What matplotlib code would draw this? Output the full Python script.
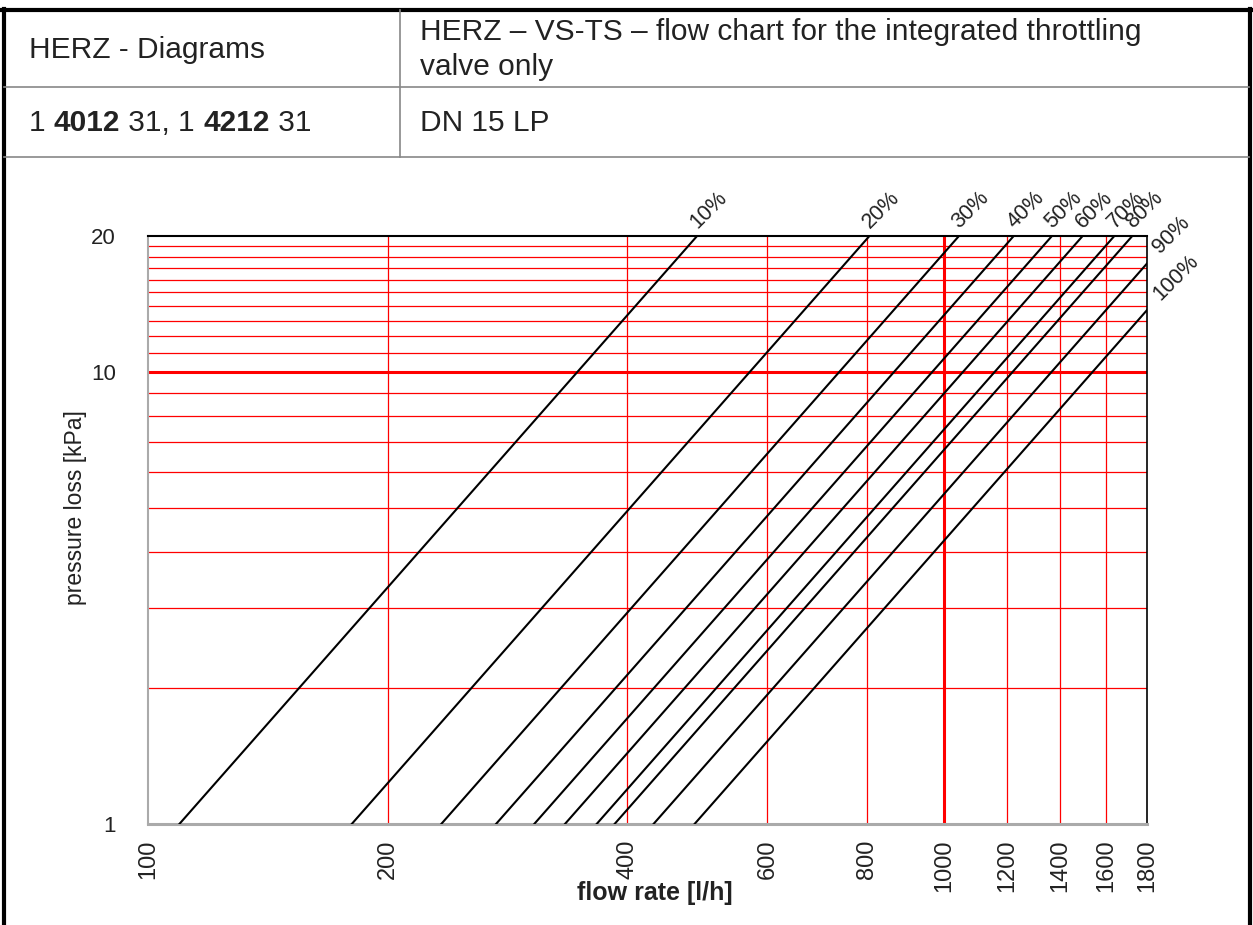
import matplotlib
matplotlib.use("Agg")
import matplotlib.pyplot as plt
from matplotlib.lines import Line2D
import numpy as np

plt.rcParams['font.family'] = ['Liberation Sans', 'DejaVu Sans']

# valve openings and their kv values (m3/h at 1 bar)
openings = ['10%', '20%', '30%', '40%', '50%', '60%', '70%', '80%', '90%', '100%']
kv_values = [1.095, 1.803, 2.336, 2.737, 3.057, 3.341, 3.662, 3.857, 4.317, 4.861]

x_ticks = [100, 200, 400, 600, 800, 1000, 1200, 1400, 1600, 1800]
y_ticks = [1, 10, 20]
x_grid = [200, 400, 600, 800, 1200, 1400, 1600]
y_grid = [2, 3, 4, 5, 6, 7, 8, 9, 11, 12, 13, 14, 15, 16, 17, 18, 19]

W, H = 1253, 925
fig = plt.figure(figsize=(W / 100, H / 100), dpi=100)
fig.patch.set_facecolor('white')
txt = '#222222'


def fx(px):
    return px / W


def fy(py):
    return 1 - py / H


# header table
def hline(py, x0, x1, color, lw):
    fig.add_artist(Line2D([fx(x0), fx(x1)], [fy(py), fy(py)], color=color, lw=lw))


def vline(px, y0, y1, color, lw):
    fig.add_artist(Line2D([fx(px), fx(px)], [fy(y0), fy(y1)], color=color, lw=lw))


hline(10, 2, 1251, 'black', 3)
vline(3.5, 9, 925, 'black', 3)
vline(1249.5, 9, 925, 'black', 3)
hline(87, 4, 1249, '#888888', 1.2)
hline(157, 4, 1249, '#888888', 1.2)
vline(400, 10, 157, '#888888', 1.2)

hsize = 21.5
fig.text(fx(29), fy(50), 'HERZ - Diagrams', fontsize=hsize, va='center', color=txt)
fig.text(fx(420), fy(32), 'HERZ \u2013 VS-TS \u2013 flow chart for the integrated throttling',
         fontsize=hsize, va='center', color=txt)
fig.text(fx(420), fy(67), 'valve only', fontsize=hsize, va='center', color=txt)
fig.text(fx(420), fy(123), 'DN 15 LP', fontsize=hsize, va='center', color=txt)

renderer = fig.canvas.get_renderer()
x = fx(29)
for s, w in [('1 ', 'normal'), ('4012', 'bold'), (' 31, 1 ', 'normal'),
             ('4212', 'bold'), (' 31', 'normal')]:
    t = fig.text(x, fy(123), s, fontsize=hsize, va='center', weight=w, color=txt)
    bb = t.get_window_extent(renderer)
    x += bb.width / W

# chart
ax = fig.add_axes([fx(148), fy(824), (1147 - 148) / W, (824 - 236) / H])
ax.set_xscale('log')
ax.set_yscale('log')
ax.set_xlim(100, 1800)
ax.set_ylim(1, 20)

for v in y_grid:
    ax.axhline(v, color='red', lw=0.9, zorder=1)
ax.axhline(10, color='red', lw=2.2, zorder=1)
for v in x_grid:
    ax.axvline(v, color='red', lw=0.9, zorder=1)
ax.axvline(1000, color='red', lw=2.2, zorder=1)

dp = np.array([1.0, 20.0])
for name, kv in zip(openings, kv_values):
    q = kv * 100 * np.sqrt(dp)
    ax.plot(q, dp, color='black', lw=1.5, zorder=3)
    q_end = kv * 100 * np.sqrt(20)
    if q_end <= 1800:
        ax.annotate(name, xy=(q_end, 20), xytext=(4, 3), textcoords='offset pixels',
                    rotation=45, rotation_mode='anchor', ha='left', va='bottom',
                    fontsize=15.5, annotation_clip=False, color=txt)
    else:
        p_end = (1800 / (kv * 100)) ** 2
        ax.annotate(name, xy=(1800, p_end), xytext=(17, 6), textcoords='offset pixels',
                    rotation=45, rotation_mode='anchor', ha='left', va='bottom',
                    fontsize=15.5, annotation_clip=False, color=txt)

ax.set_xticks(x_ticks)
ax.set_xticklabels([str(v) for v in x_ticks], rotation=90, fontsize=17)
ax.set_yticks(y_ticks)
ax.set_yticklabels([str(v) for v in y_ticks], fontsize=16)
ax.xaxis.set_minor_locator(matplotlib.ticker.NullLocator())
ax.yaxis.set_minor_locator(matplotlib.ticker.NullLocator())
ax.tick_params(length=0, colors=txt)
ax.tick_params(axis='x', pad=11)
ax.tick_params(axis='y', pad=23)

ax.set_xlabel('flow rate [l/h]', fontsize=18, fontweight='bold', color=txt, va='center')
ax.xaxis.set_label_coords(0.5075, -0.117)
ax.set_ylabel('pressure loss [kPa]', fontsize=16.5, color=txt, va='center')
ax.yaxis.set_label_coords(-0.073, 0.538)

ax.spines['left'].set_color('#aaaaaa')
ax.spines['left'].set_linewidth(1.5)
ax.spines['bottom'].set_color('#aaaaaa')
ax.spines['bottom'].set_linewidth(2.2)
ax.spines['top'].set_color('black')
ax.spines['top'].set_linewidth(1.5)
ax.spines['right'].set_color('black')
ax.spines['right'].set_linewidth(1.2)

fig.savefig('out.png', dpi=100)
